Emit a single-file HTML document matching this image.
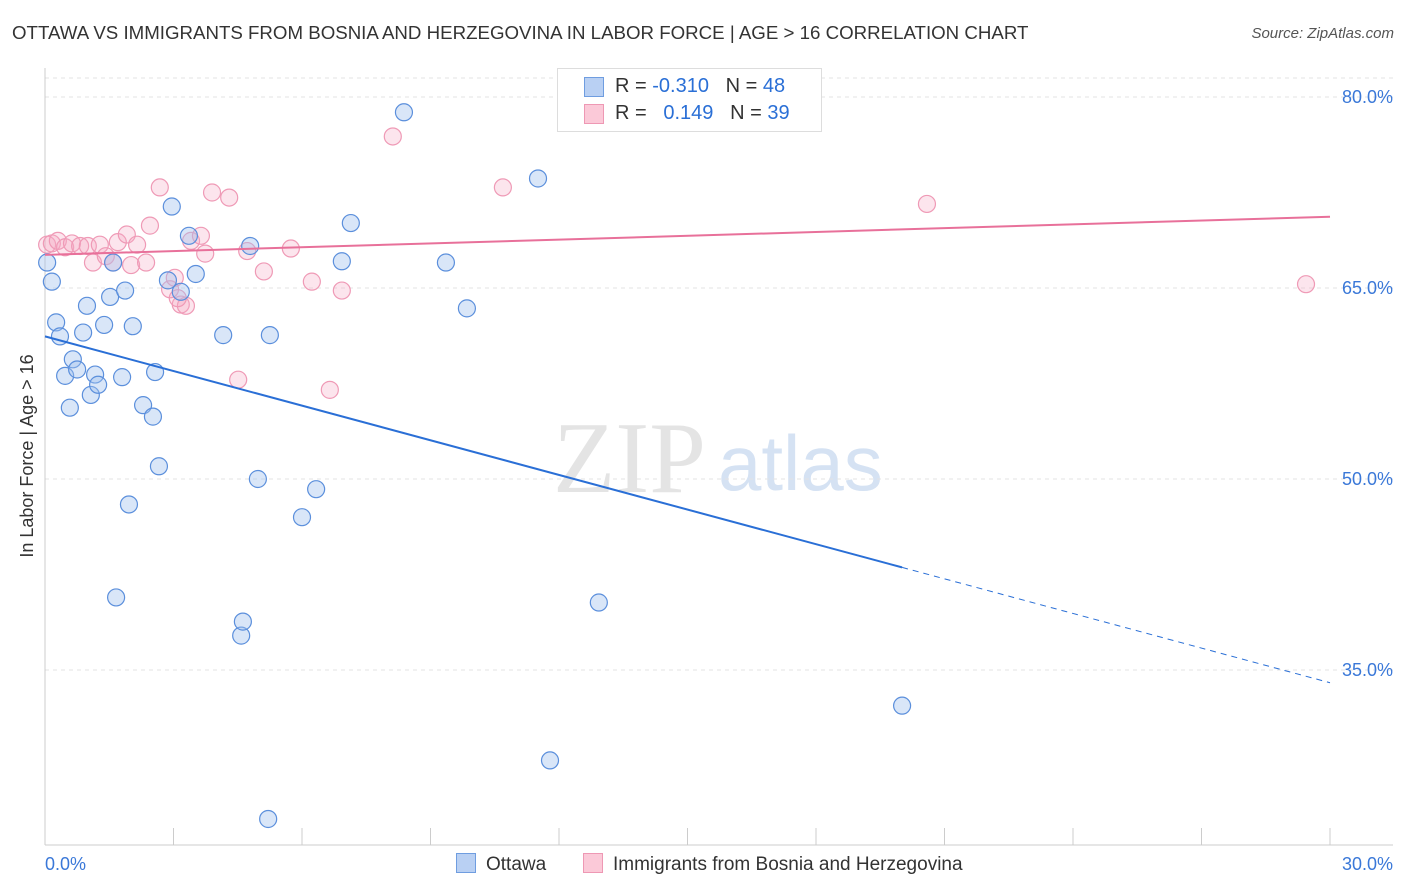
<!DOCTYPE html>
<html><head><meta charset="utf-8">
<style>
body{margin:0;background:#fff;font-family:"Liberation Sans",sans-serif;}
#wrap{position:relative;width:1406px;height:892px;overflow:hidden;}
.t{position:absolute;white-space:nowrap;}
</style></head>
<body>
<div id="wrap">
<div class="t" style="left:12px;top:22px;font-size:18.7px;color:#333;">OTTAWA VS IMMIGRANTS FROM BOSNIA AND HERZEGOVINA IN LABOR FORCE | AGE &gt; 16 CORRELATION CHART</div>
<div class="t" style="right:12px;top:25px;font-size:15px;color:#555;font-style:italic;">Source: ZipAtlas.com</div>
<svg id="svg" width="1406" height="892" style="position:absolute;left:0;top:0"></svg>
</div>
<script>
const blueX=[0.05,0.16,0.26,0.35,0.47,0.58,0.65,0.75,0.89,0.98,1.07,1.17,1.24,1.38,1.52,1.59,1.66,1.80,1.87,1.96,2.05,2.29,2.52,2.57,2.66,2.87,2.96,3.17,3.36,3.52,4.16,4.58,4.62,4.79,4.97,5.21,5.25,6.00,6.33,6.93,7.14,8.38,9.36,9.85,11.51,11.79,12.93,20.01];
const blueY=[67.0,65.5,62.3,61.2,58.1,55.6,59.4,58.6,61.5,63.6,56.6,58.2,57.4,62.1,64.3,67.0,40.7,58.0,64.8,48.0,62.0,55.8,54.9,58.4,51.0,65.6,71.4,64.7,69.1,66.1,61.3,37.7,38.8,68.3,50.0,23.3,61.3,47.0,49.2,67.1,70.1,78.8,67.0,63.4,73.6,27.9,40.3,32.2];
const pinkX=[0.05,0.16,0.30,0.47,0.63,0.82,1.00,1.12,1.28,1.42,1.59,1.70,1.91,2.01,2.15,2.36,2.45,2.68,2.92,3.03,3.17,3.29,3.41,3.64,3.74,3.90,4.30,4.51,4.72,5.11,5.74,6.23,6.65,6.93,8.12,10.69,20.59,29.44,3.10];
const pinkY=[68.4,68.5,68.7,68.2,68.5,68.3,68.3,67.0,68.4,67.5,67.0,68.6,69.2,66.8,68.4,67.0,69.9,72.9,64.9,65.8,63.7,63.6,68.7,69.1,67.7,72.5,72.1,57.8,67.9,66.3,68.1,65.5,57.0,64.8,76.9,72.9,71.6,65.3,64.2];
const blueTrend=[61.2,34.0];
const pinkTrend=[67.6,70.6];
const yTicks=[80,65,50,35];
const xTickVals=[0,3,6,9,12,15,18,21,24,27,30];

const X=v=>45+v*1285/30;
const Y=v=>97+(80-v)*191/15;
const svg=document.getElementById('svg');
const NS='http://www.w3.org/2000/svg';
function mk(tag,at){const e=document.createElementNS(NS,tag);for(const k in at)e.setAttribute(k,at[k]);svg.appendChild(e);return e;}

let w=mk('text',{x:553,y:492,'font-size':102,fill:'#e4e4e4','font-family':'Liberation Serif,serif'});w.textContent='ZIP';


w=mk('text',{x:718,y:490,'font-size':78,fill:'#d5e2f3','font-family':'Liberation Sans,sans-serif'});w.textContent='atlas';



let g=mk('line',{x1:45,x2:1393,y1:78,y2:78,stroke:'#e3e3e3','stroke-dasharray':'4,4'});


yTicks.forEach(v=>{
  const l=mk('line',{x1:45,x2:1393,y1:Y(v),y2:Y(v),stroke:'#e3e3e3','stroke-dasharray':'4,4'});
  
  
  const t=mk('text',{x:1393,y:Y(v)+6,'text-anchor':'end','font-size':18,fill:'#3a78d8'});
  t.textContent=v.toFixed(1)+'%';
  
  
});
let a=mk('line',{x1:45,x2:45,y1:68,y2:845,stroke:'#ccc'});


a=mk('line',{x1:45,x2:1393,y1:845,y2:845,stroke:'#ccc'});


xTickVals.forEach(v=>{
  const l=mk('line',{x1:X(v),x2:X(v),y1:828,y2:845,stroke:'#ccc'});
  
  
});
let t=mk('text',{x:45,y:870,'font-size':18,fill:'#3a78d8'});t.textContent='0.0%';


t=mk('text',{x:1393,y:870,'font-size':18,fill:'#3a78d8','text-anchor':'end'});t.textContent='30.0%';


t=mk('text',{x:0,y:0,'font-size':18,fill:'#333','text-anchor':'middle',transform:'translate(33,456) rotate(-90)'});t.textContent='In Labor Force | Age > 16';



function pts(xs,ys,fill,stroke,name){
  xs.forEach((x,i)=>{
    const c=mk('circle',{cx:X(x),cy:Y(ys[i]),r:8.5,fill:fill,stroke:stroke,'stroke-width':1.2});
    
    
  });
}
pts(pinkX,pinkY,'rgba(246,170,195,0.3)','#ef9ab6','pink-point');
pts(blueX,blueY,'rgba(160,192,238,0.4)','#5b8fdc','blue-point');

const bx=20.01, by=blueTrend[0]+(blueTrend[1]-blueTrend[0])*bx/30;
let tl=mk('line',{x1:X(0),y1:Y(blueTrend[0]),x2:X(bx),y2:Y(by),stroke:'#2a6fd6','stroke-width':2});


tl=mk('line',{x1:X(bx),y1:Y(by),x2:X(30),y2:Y(blueTrend[1]),stroke:'#2a6fd6','stroke-width':1,'stroke-dasharray':'6,5'});


tl=mk('line',{x1:X(0),y1:Y(pinkTrend[0]),x2:X(30),y2:Y(pinkTrend[1]),stroke:'#e8709a','stroke-width':2});


</script>

<div class="t" style="left:557px;top:68px;width:263px;height:62px;border:1px solid #ddd;background:#fff;font-size:20px;color:#333;">
  <div style="position:absolute;left:26px;top:8px;width:18px;height:18px;background:#b9d0f3;border:1px solid #6f9de0;"></div>
  <div style="position:absolute;left:57px;top:6px;">R = <span style="color:#2a6fd6">-0.310</span>&nbsp;&nbsp;&nbsp;N = <span style="color:#2a6fd6">48</span></div>
  <div style="position:absolute;left:26px;top:35px;width:18px;height:18px;background:#fbc9d8;border:1px solid #ee98b4;"></div>
  <div style="position:absolute;left:57px;top:33px;">R = &nbsp;&nbsp;<span style="color:#2a6fd6">0.149</span>&nbsp;&nbsp;&nbsp;N = <span style="color:#2a6fd6">39</span></div>
</div>

<div class="t" style="left:456px;top:853px;font-size:19px;color:#333;">
  <span style="display:inline-block;width:18px;height:18px;background:#b9d0f3;border:1px solid #6f9de0;vertical-align:-3px;margin-right:10px;"></span>Ottawa</div>
<div class="t" style="left:583px;top:853px;font-size:19px;color:#333;">
  <span style="display:inline-block;width:18px;height:18px;background:#fbc9d8;border:1px solid #ee98b4;vertical-align:-3px;margin-right:10px;"></span>Immigrants from Bosnia and Herzegovina</div>
</body></html>
